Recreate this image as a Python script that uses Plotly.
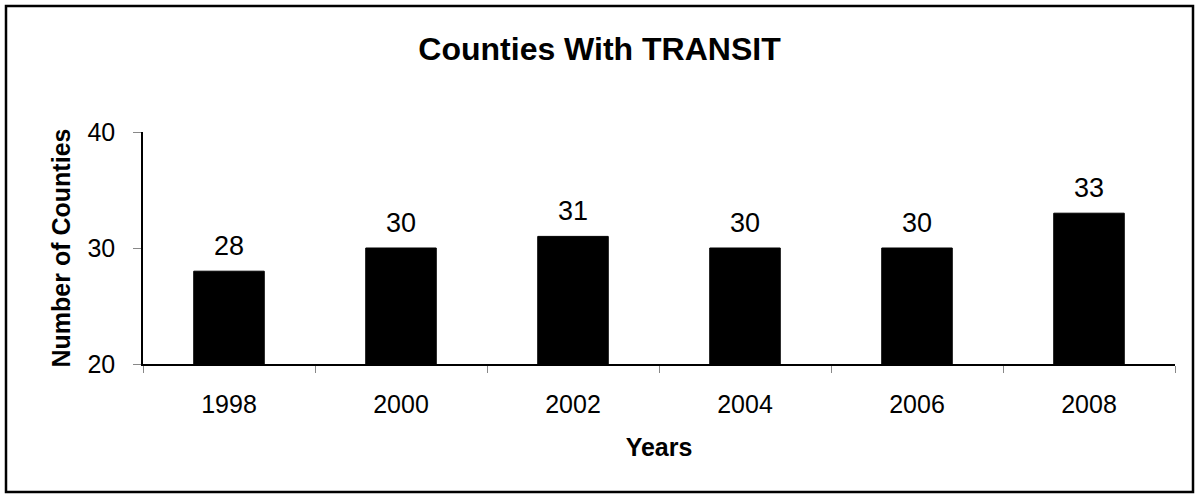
import plotly.graph_objs as go

years = ["1998", "2000", "2002", "2004", "2006", "2008"]
counties = [28, 30, 31, 30, 30, 33]

font = "Liberation Sans, Arial, sans-serif"

fig = go.Figure(
    data=[
        go.Bar(
            x=years,
            y=counties,
            marker_color="black",
            marker_line_color="black",
            marker_line_width=1,
            width=0.41,
            hoverinfo="x+y",
        )
    ]
)

# value labels above the bars (x given as category index)
for i, v in enumerate(counties):
    fig.add_annotation(
        x=i, y=v, text=str(v), showarrow=False, yanchor="bottom", yshift=8,
        font=dict(family=font, size=27, color="black"),
    )

fig.update_layout(
    width=1199,
    height=495,
    margin=dict(l=143, r=24, t=132, b=131),
    paper_bgcolor="white",
    plot_bgcolor="white",
    showlegend=False,
    font=dict(family=font, color="black"),
    title=dict(
        text="<b>Counties With TRANSIT</b>",
        x=0.5, xanchor="center", y=1 - 49 / 495, yanchor="middle",
        font=dict(family=font, size=32, color="black"),
    ),
)
fig.update_xaxes(
    type="category", automargin=False, range=[-0.5, len(years) - 0.5],
    showline=True, linewidth=1.5, linecolor="black", mirror=False,
    ticks="outside", tickson="boundaries", ticklen=7, tickcolor="#888888",
    tickfont=dict(family=font, size=25, color="black"),
    ticklabelstandoff=17,
    showgrid=False,
    title=dict(text="<b>Years</b>", font=dict(family=font, size=25, color="black"), standoff=22),
)
fig.update_yaxes(
    range=[20, 40], tickvals=[20, 30, 40], automargin=False,
    showline=True, linewidth=1.5, linecolor="black", mirror=False,
    ticks="outside", ticklen=8, tickcolor="#888888",
    tickfont=dict(family=font, size=25, color="black"),
    ticklabelstandoff=13,
    showgrid=False, zeroline=False,
    title=dict(text="<b>Number of Counties</b>", font=dict(family=font, size=25, color="black"), standoff=10),
)

# outer border of the chart area
fig.add_shape(
    type="rect", xref="paper", yref="paper",
    x0=(6 - 143) / 1032, x1=(1193 - 143) / 1032,
    y0=(364 - 492) / 232, y1=(364 - 6) / 232,
    line=dict(color="black", width=2.5), layer="below",
)

fig.write_html(
    "out.html",
    config={"displayModeBar": False},
    post_script="document.body.style.margin='0';",
)
